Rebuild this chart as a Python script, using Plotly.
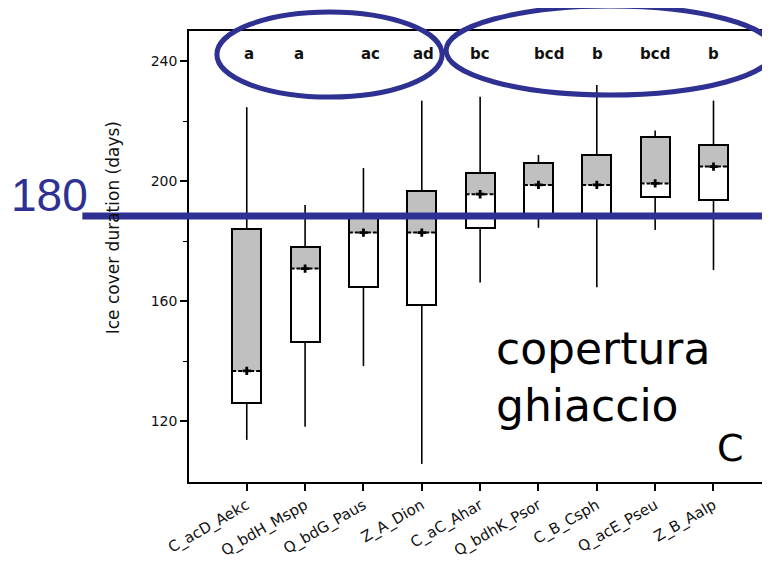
import plotly.graph_objects as go

# ---------------- data ----------------
categories = ["C_acD_Aekc", "Q_bdH_Mspp", "Q_bdG_Paus", "Z_A_Dion", "C_aC_Ahar",
              "Q_bdhK_Psor", "C_B_Csph", "Q_acE_Pseu", "Z_B_Aalp"]
whisker_min = [113.7, 118.1, 138.3, 105.7, 166.2, 184.4, 164.6, 183.7, 170.3]
q1 = [125.9, 146.4, 164.6, 158.7, 184.4, 188.0, 188.0, 194.6, 193.6]
median = [136.7, 170.8, 182.8, 182.8, 195.6, 198.7, 198.7, 199.2, 204.8]
q3 = [183.9, 177.9, 188.0, 196.6, 202.6, 205.9, 208.6, 214.6, 211.9]
whisker_max = [224.6, 192.0, 204.3, 226.8, 228.1, 208.7, 232.0, 216.8, 226.8]
letters = ["a", "a", "ac", "ad", "bc", "bcd", "b", "bcd", "b"]
y_ticks = [120, 160, 200, 240]
threshold_label = "180"
note_lines = ["copertura", "ghiaccio"]
panel_label = "C"
y_title = "Ice cover duration (days)"

# ---------------- layout constants (page pixel coordinates) ----------------
PAGE_W, PAGE_H = 770, 563
BODY = 8                                # default page margin of the html body
W, H = PAGE_W - BODY, PAGE_H - BODY
L, R, T, B = 189, 768, 31, 482          # plot area on the page
BLUE = "#2E3192"
GRAY = "#c0c0c0"
BOXW = 0.5
letter_dx = [0.03, -0.1, 0.12, 0.03, 0.0, 0.18, 0.02, 0.0, 0.0]


def px(x):
    return (x - L) / (R - L)


def py(y):
    return (B - y) / (B - T)


idx = list(range(len(categories)))
fig = go.Figure()

# box fill: white lower part, gray upper part
fig.add_trace(go.Bar(x=idx, y=[b - a for a, b in zip(q1, q3)], base=q1, width=BOXW,
                     marker=dict(color="white", line=dict(width=0)), hoverinfo="skip"))
fig.add_trace(go.Bar(x=idx, y=[b - a for a, b in zip(median, q3)], base=median, width=BOXW,
                     marker=dict(color=GRAY, line=dict(width=0)), hoverinfo="skip"))
# box outline
fig.add_trace(go.Bar(x=idx, y=[b - a for a, b in zip(q1, q3)], base=q1, width=BOXW,
                     marker=dict(color="rgba(0,0,0,0)", line=dict(color="black", width=2)),
                     hoverinfo="skip"))

# whiskers
wx, wy = [], []
for i in idx:
    wx += [i, i, None, i, i, None]
    wy += [q3[i], whisker_max[i], None, whisker_min[i], q1[i], None]
fig.add_trace(go.Scatter(x=wx, y=wy, mode="lines", line=dict(color="black", width=1.6),
                         hoverinfo="skip"))

# median dashed line
mx, my = [], []
for i in idx:
    mx += [i - BOXW / 2, i + BOXW / 2, None]
    my += [median[i], median[i], None]
fig.add_trace(go.Scatter(x=mx, y=my, mode="lines",
                         line=dict(color="black", width=2, dash="4px,2px"), hoverinfo="skip"))
fig.add_trace(go.Scatter(x=idx, y=median, mode="markers",
                         marker=dict(symbol="cross", size=7, color="black"), hoverinfo="skip"))

# significance letters
for i, t in enumerate(letters):
    fig.add_annotation(x=i + letter_dx[i], y=242.5, text="<b>%s</b>" % t, showarrow=False,
                       font=dict(family="DejaVu Sans", size=15, color="#111"),
                       xanchor="center", yanchor="middle")

shapes = []
# blue ellipses
shapes.append(dict(type="circle", xref="paper", yref="paper",
                   x0=px(217), x1=px(443), y0=py(97), y1=py(12),
                   line=dict(color=BLUE, width=5)))
shapes.append(dict(type="circle", xref="paper", yref="paper",
                   x0=px(447), x1=px(776), y0=py(95), y1=py(6),
                   line=dict(color=BLUE, width=5)))
# blue threshold line
shapes.append(dict(type="line", xref="paper", yref="paper",
                   x0=px(82), x1=px(776), y0=py(216), y1=py(216),
                   line=dict(color=BLUE, width=7)))

fig.add_annotation(xref="paper", yref="paper", x=px(49), y=py(195), text=threshold_label,
                   showarrow=False, font=dict(family="Liberation Sans", size=46, color=BLUE),
                   xanchor="center", yanchor="middle")
fig.add_annotation(xref="paper", yref="paper", x=px(495), y=py(348), text=note_lines[0],
                   showarrow=False, font=dict(family="DejaVu Sans", size=44, color="black"),
                   xanchor="left", yanchor="middle")
fig.add_annotation(xref="paper", yref="paper", x=px(495), y=py(405), text=note_lines[1],
                   showarrow=False, font=dict(family="DejaVu Sans", size=44, color="black"),
                   xanchor="left", yanchor="middle")
fig.add_annotation(xref="paper", yref="paper", x=px(732), y=py(448), text=panel_label,
                   showarrow=False, font=dict(family="DejaVu Sans", size=38, color="black"),
                   xanchor="center", yanchor="middle")
fig.add_annotation(xref="paper", yref="paper", x=px(113), y=py(228), text=y_title,
                   textangle=-90, showarrow=False,
                   font=dict(family="DejaVu Sans", size=17, color="#111"),
                   xanchor="center", yanchor="middle")

fig.update_layout(
    width=W, height=H,
    margin=dict(l=L - BODY, r=PAGE_W - R, t=T - BODY, b=PAGE_H - B),
    paper_bgcolor="white", plot_bgcolor="white",
    showlegend=False, barmode="overlay", bargap=0,
    shapes=shapes,
    font=dict(family="DejaVu Sans", color="#111"),
)
fig.update_xaxes(range=[-0.99, 8.9], tickmode="array", tickvals=idx, ticktext=categories,
                 tickangle=-30, tickfont=dict(size=15, family="DejaVu Sans", color="#111"),
                 ticks="outside", ticklen=7, tickwidth=1.5, tickcolor="black",
                 showline=True, linecolor="black", linewidth=1.5, mirror=True,
                 showgrid=False, zeroline=False)
fig.update_yaxes(range=[99.67, 250], tickmode="array", tickvals=y_ticks,
                 tickfont=dict(size=14, family="DejaVu Sans", color="#111"),
                 ticks="outside", ticklen=7, tickwidth=1.5, tickcolor="black",
                 minor=dict(ticks="outside", ticklen=4, tickwidth=1.2, tickcolor="black",
                            tickvals=[140, 180, 220]),
                 showline=True, linecolor="black", linewidth=1.5, mirror=True,
                 showgrid=False, zeroline=False)

fig.write_html("out.html")
